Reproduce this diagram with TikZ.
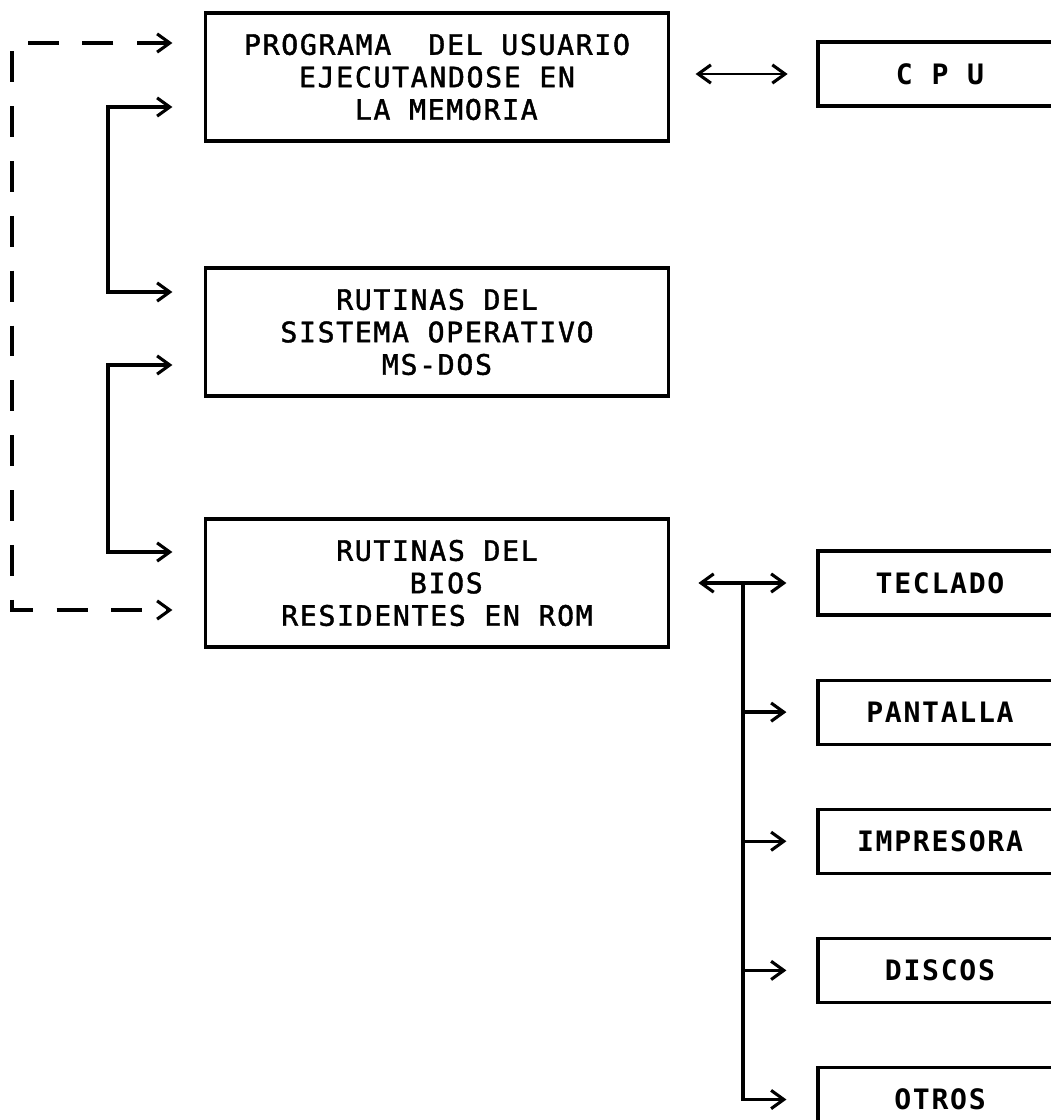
\documentclass[tikz,border=0pt]{standalone}
\usepackage{fontspec}
\newfontfamily\dotfont{DejaVu Sans Mono}[LetterSpace=6,FakeBold=1.5]
\newfontfamily\dotboldfont{DejaVu Sans Mono Bold}[LetterSpace=6]
\usetikzlibrary{positioning,arrows.meta}

\begin{document}
\begin{tikzpicture}[
	x=0.025cm,
	y=-0.025cm,
	font=\dotfont\fontsize{20}{23.1}\selectfont,
	>={Straight Barb[length=9pt,width=13pt,line width=2.2pt]},
	membox/.style={
		draw=black,
		line width=2.2pt,
		minimum width=11.55cm,
		minimum height=3.2cm,
		inner sep=0pt,
		align=center
	},
	devbox/.style={
		draw=black,
		line width=2.2pt,
		minimum width=6.1cm,
		minimum height=1.6cm,
		inner sep=0pt,
		align=center,
		font=\dotboldfont\fontsize{20}{23.1}\selectfont
	},
	link/.style={
		draw,
		line width=2.4pt
	},
	dlink/.style={
		draw,
		line width=2.4pt,
		dash pattern=on 22pt off 17pt
	}
	]
	
	\useasboundingbox (0,0) rectangle (1051,1120);
	\clip (0,0) rectangle (1051,1120);
	\fill[white] (0,0) rectangle (1051,1120);
	
	\node[membox] (prog) at (437,77) {PROGRAMA~~DEL USUARIO\\EJECUTANDOSE EN\\~LA MEMORIA};
	\node[membox] (sist) at (437,332) {RUTINAS DEL\\SISTEMA OPERATIVO\\MS-DOS};
	\node[membox] (bios) at (437,583) {RUTINAS DEL\\~BIOS\\RESIDENTES EN ROM};
	
	\node[devbox] (cpu) at (940,74) {C P U};
	
	\node[devbox] (tecl) at (940,583) {TECLADO};
	\node[devbox, below=1.55cm of tecl] (pant) {PANTALLA};
	\node[devbox, below=1.55cm of pant] (impr) {IMPRESORA};
	\node[devbox, below=1.55cm of impr] (disc) {DISCOS};
	\node[devbox, below=1.55cm of disc] (otros) {OTROS};
	
	% left brackets
	\coordinate (dtop) at (12,43);
	\coordinate (dbot) at (12,610);
	\draw[dlink, <->, shorten <=0.8cm, shorten >=0.8cm]
	(dtop -| prog.west) -- (dtop) -- (dbot) -- (dbot -| bios.west);
	
	\coordinate (s1top) at (108,107);
	\coordinate (s1bot) at (108,292);
	\draw[link, <->, shorten <=0.8cm, shorten >=0.8cm]
	(s1top -| prog.west) -- (s1top) -- (s1bot) -- (s1bot -| sist.west);
	
	\coordinate (s2top) at (108,365);
	\coordinate (s2bot) at (108,552);
	\draw[link, <->, shorten <=0.8cm, shorten >=0.8cm]
	(s2top -| sist.west) -- (s2top) -- (s2bot) -- (s2bot -| bios.west);
	
	% right side
	\draw[link, line width=1.4pt, <->, shorten <=0.65cm, shorten >=0.72cm]
	(prog.east |- cpu.west) -- (cpu.west);
	
	\coordinate (bus) at (743,583);
	\draw[link, <->, shorten <=0.72cm, shorten >=0.75cm]
	(bios.east |- tecl.west) -- (tecl.west);
	\draw[link, ->, shorten >=0.75cm] (bus) |- (otros.west);
	\draw[link, ->, shorten >=0.75cm] (bus |- pant.west) -- (pant.west);
	\draw[link, ->, shorten >=0.75cm] (bus |- impr.west) -- (impr.west);
	\draw[link, ->, shorten >=0.75cm] (bus |- disc.west) -- (disc.west);
\end{tikzpicture}
\end{document}
